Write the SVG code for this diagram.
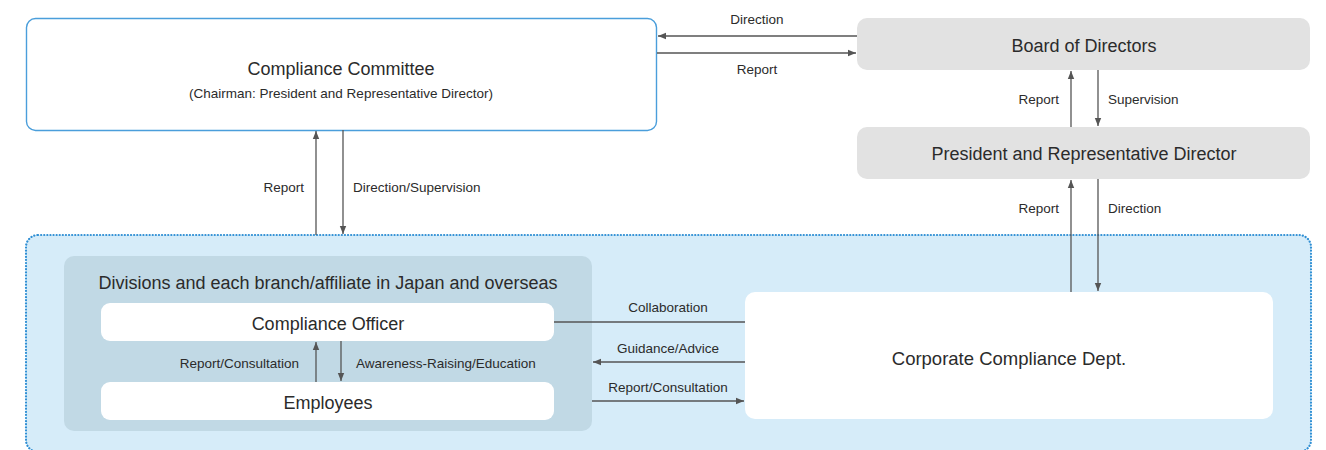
<svg xmlns="http://www.w3.org/2000/svg" width="1326" height="450" viewBox="0 0 1326 450">
<defs>
<marker id="ah" viewBox="0 0 8 8" refX="8" refY="4" markerWidth="8" markerHeight="8" markerUnits="userSpaceOnUse" orient="auto">
<path d="M0,0.8 L8,4 L0,7.2 Z" fill="#555"/>
</marker>
<style>
text{font-family:"Liberation Sans",Arial,sans-serif;fill:#2b2b2b}
.big{font-size:18px;text-anchor:middle}
.sm{font-size:13.5px}
.mid{text-anchor:middle}
.end{text-anchor:end}
.ln{stroke:#555;stroke-width:1.3;fill:none}
.arr{stroke:#555;stroke-width:1.3;fill:none;marker-end:url(#ah)}
</style>
</defs>
<rect width="1326" height="450" fill="#fff"/>
<g id="group-area">
<rect x="26" y="235" width="1285" height="217" rx="12" fill="#d6ecf9" stroke="#2f8fd4" stroke-width="2.2" stroke-dasharray="0.1 3" stroke-linecap="round"/>
</g>
<g id="compliance-committee">
<rect x="26.5" y="18.5" width="630" height="112" rx="9" fill="#fff" stroke="#4a9edb" stroke-width="1.4"/>
<text class="big" x="341" y="75">Compliance Committee</text>
<text class="sm mid" x="341" y="98">(Chairman: President and Representative Director)</text>
</g>
<g id="board">
<rect x="857" y="18" width="453" height="52" rx="10" fill="#e2e2e2"/>
<text class="big" x="1084" y="52">Board of Directors</text>
</g>
<g id="president">
<rect x="857" y="127" width="453" height="52" rx="10" fill="#e2e2e2"/>
<text class="big" x="1084" y="160">President and Representative Director</text>
</g>
<g id="divisions">
<rect x="64" y="256" width="528" height="175" rx="10" fill="#c1d9e5"/>
<text class="big" x="328" y="289">Divisions and each branch/affiliate in Japan and overseas</text>
</g>
<g id="officer">
<rect x="101" y="303" width="453" height="38" rx="9" fill="#fff"/>
<text class="big" x="328" y="330">Compliance Officer</text>
</g>
<g id="employees">
<rect x="101" y="382" width="453" height="38" rx="9" fill="#fff"/>
<text class="big" x="328" y="409">Employees</text>
</g>
<g id="corporate-dept">
<rect x="745" y="292" width="528" height="127" rx="10" fill="#fff"/>
<text class="big" x="1009" y="365" style="font-size:18.5px">Corporate Compliance Dept.</text>
</g>
<g id="connectors">
<line class="arr" x1="857" y1="36" x2="658" y2="36"/>
<line class="arr" x1="657" y1="53" x2="856" y2="53"/>
<line class="arr" x1="1071" y1="127" x2="1071" y2="71"/>
<line class="arr" x1="1098" y1="70" x2="1098" y2="126"/>
<line class="arr" x1="1071" y1="292" x2="1071" y2="180"/>
<line class="arr" x1="1098" y1="179" x2="1098" y2="291"/>
<line class="arr" x1="316" y1="235" x2="316" y2="131"/>
<line class="arr" x1="343" y1="130" x2="343" y2="234"/>
<line class="ln" x1="554" y1="322" x2="745" y2="322"/>
<line class="arr" x1="745" y1="362" x2="593" y2="362"/>
<line class="arr" x1="592" y1="401" x2="744" y2="401"/>
<line class="arr" x1="316" y1="382" x2="316" y2="342"/>
<line class="arr" x1="341" y1="341" x2="341" y2="381"/>
</g>
<g id="labels">
<text class="sm mid" x="757" y="24">Direction</text>
<text class="sm mid" x="757" y="74">Report</text>
<text class="sm end" x="1059" y="104">Report</text>
<text class="sm" x="1108" y="104">Supervision</text>
<text class="sm end" x="1059" y="213">Report</text>
<text class="sm" x="1108" y="213">Direction</text>
<text class="sm end" x="304" y="192">Report</text>
<text class="sm" x="353" y="192">Direction/Supervision</text>
<text class="sm mid" x="668" y="312">Collaboration</text>
<text class="sm mid" x="668" y="353">Guidance/Advice</text>
<text class="sm mid" x="668" y="392">Report/Consultation</text>
<text class="sm end" x="299" y="368">Report/Consultation</text>
<text class="sm" x="356" y="368">Awareness-Raising/Education</text>
</g>
</svg>
